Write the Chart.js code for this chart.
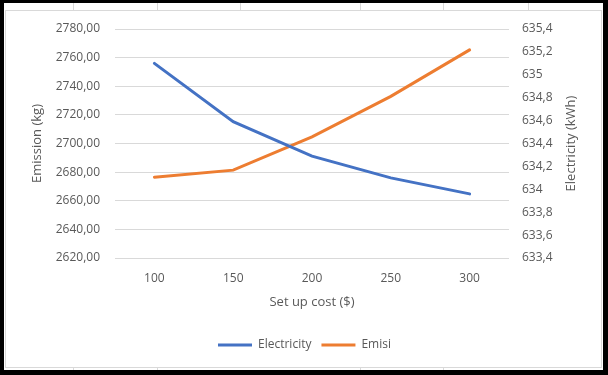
<!DOCTYPE html>
<html>
<head>
<meta charset="utf-8">
<script src="https://cdn.jsdelivr.net/npm/chart.js@4"></script>
<style>
    html, body { margin: 0; padding: 0; background: #fff; }
    #frame {
        position: absolute; left: 0; top: 0; width: 608px; height: 375px;
        box-sizing: border-box; background: #fff;
        border-style: solid; border-color: #000;
        border-width: 3px 5px 5px 4px;
    }
    .cell { position: absolute; width: 1px; background: #d9d9d9; }
    #plotBox {
        position: absolute; left: 5px; top: 10px; width: 597px; height: 358px;
        box-sizing: border-box; border: 1px solid #d9d9d9; background: #fff;
    }
    #wrap { position: absolute; left: 0; top: 0; width: 608px; height: 375px; }
</style>
</head>
<body>
<div id="frame"></div>
<div class="cell" style="left:73px;top:3px;height:7px"></div>
<div class="cell" style="left:157px;top:3px;height:7px"></div>
<div class="cell" style="left:240px;top:3px;height:7px"></div>
<div class="cell" style="left:360px;top:3px;height:7px"></div>
<div class="cell" style="left:443px;top:3px;height:7px"></div>
<div class="cell" style="left:528px;top:3px;height:7px"></div>
<div class="cell" style="left:73px;top:368px;height:2px"></div>
<div class="cell" style="left:157px;top:368px;height:2px"></div>
<div class="cell" style="left:360px;top:368px;height:2px"></div>
<div class="cell" style="left:443px;top:368px;height:2px"></div>
<div id="plotBox"></div>
<div id="wrap"><canvas id="chartSetup"></canvas></div>
<script>
const setupCost = ['100', '150', '200', '250', '300'];
const electricity = [635.10, 634.59, 634.29, 634.10, 633.96];
const emisi = [2676.5, 2681.4, 2704.7, 2732.9, 2765.4];

const azul = '#4472C4';
const naranja = '#ED7D31';
const gris = '#595959';
const fuente = '"Open Sans", "Noto Sans", sans-serif';

Chart.defaults.font.family = fuente;
Chart.defaults.color = gris;

// titulo del eje derecho, girado hacia arriba como en Excel
const tituloDerecho = {
    id: 'tituloDerecho',
    afterDraw(chart) {
        const { ctx, chartArea } = chart;
        ctx.save();
        ctx.translate(571, (chartArea.top + chartArea.bottom) / 2);
        ctx.rotate(-Math.PI / 2);
        ctx.fillStyle = gris;
        ctx.font = '13px ' + fuente;
        ctx.textAlign = 'center';
        ctx.textBaseline = 'middle';
        ctx.fillText('Electricity (kWh)', 0, 0);
        ctx.restore();
    }
};

new Chart(document.getElementById('chartSetup'), {
    type: 'line',
    data: {
        labels: setupCost,
        datasets: [
            {
                label: 'Electricity',
                data: electricity,
                yAxisID: 'y1',
                borderColor: azul,
                backgroundColor: azul,
                borderWidth: 3,
                borderCapStyle: 'round',
                pointRadius: 0,
                tension: 0
            },
            {
                label: 'Emisi',
                data: emisi,
                yAxisID: 'y',
                borderColor: naranja,
                backgroundColor: naranja,
                borderWidth: 3,
                borderCapStyle: 'round',
                pointRadius: 0,
                tension: 0
            }
        ]
    },
    options: {
        responsive: true,
        maintainAspectRatio: false,
        animation: false,
        layout: { padding: { left: 25, right: 24, top: 29, bottom: 14 } },
        plugins: {
            tooltip: { enabled: false },
            legend: {
                position: 'bottom',
                labels: {
                    usePointStyle: true,
                    pointStyle: 'line',
                    pointStyleWidth: 34,
                    padding: 10,
                    color: gris,
                    font: { size: 12 }
                }
            }
        },
        scales: {
            x: {
                offset: true,
                grid: { display: false, drawTicks: false },
                border: { display: false },
                ticks: { padding: 13, font: { size: 12 }, color: gris },
                title: {
                    display: true,
                    text: 'Set up cost ($)',
                    color: gris,
                    font: { size: 13 },
                    padding: { top: 4, bottom: 19 }
                },
                afterFit: (axis) => { axis.height = 71; }
            },
            y: {
                position: 'left',
                min: 2620,
                max: 2780,
                grid: { color: '#d9d9d9', drawTicks: false },
                border: { display: false },
                ticks: {
                    stepSize: 20,
                    padding: 15,
                    font: { size: 12 },
                    color: gris,
                    callback: (v) => v.toFixed(2).replace('.', ',')
                },
                title: {
                    display: true,
                    text: 'Emission (kg)',
                    color: gris,
                    font: { size: 13 },
                    padding: 4
                },
                afterFit: (axis) => { axis.width = 90; }
            },
            y1: {
                position: 'right',
                min: 633.4,
                max: 635.4,
                grid: { display: false, drawTicks: false },
                border: { display: false },
                ticks: {
                    stepSize: 0.2,
                    padding: 13,
                    font: { size: 12 },
                    color: gris,
                    callback: (v) => String(Math.round(v * 10) / 10).replace('.', ',')
                },
                title: { display: false },
                afterFit: (axis) => { axis.width = 75; }
            }
        }
    },
    plugins: [tituloDerecho]
});
</script>
</body>
</html>
